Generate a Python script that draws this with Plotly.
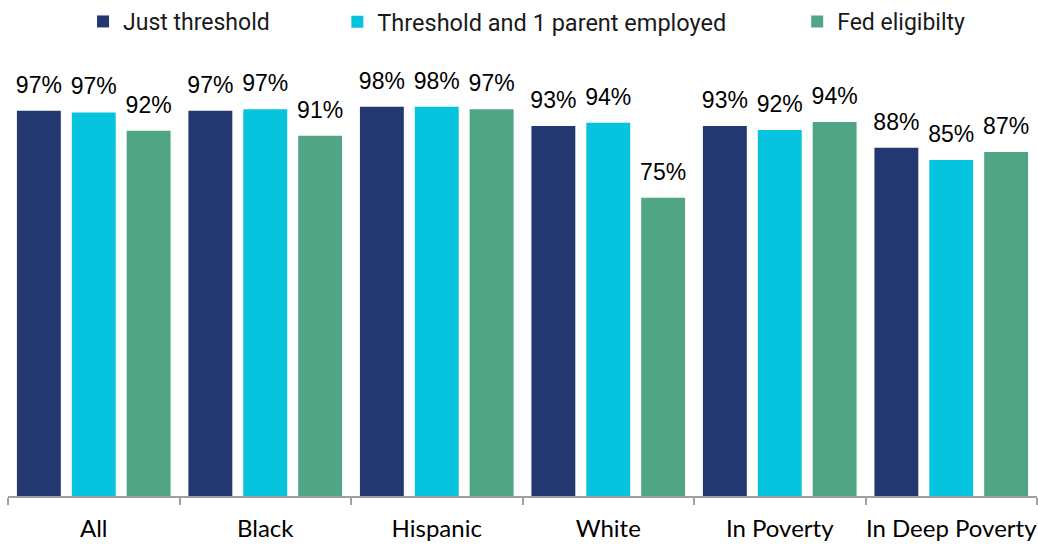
import plotly.graph_objects as go

categories = ["All", "Black", "Hispanic", "White", "In Poverty", "In Deep Poverty"]
series_names = ["Just threshold", "Threshold and 1 parent employed", "Fed eligibilty"]
just_threshold = [97.0, 97.0, 98.0, 93.2, 93.2, 87.7]
threshold_parent = [96.6, 97.4, 98.0, 94.0, 92.2, 84.6]
fed_eligibility = [92.0, 90.7, 97.4, 75.1, 94.2, 86.6]
colors = ["#233870", "#06C3DE", "#50A684"]

series = [just_threshold, threshold_parent, fed_eligibility]
legend_ids = ["legend", "legend2", "legend3"]

fig = go.Figure()
for name, vals, col, lg in zip(series_names, series, colors, legend_ids):
    fig.add_trace(go.Bar(
        x=categories, y=vals, name=name, marker_color=col,
        marker_line_width=0, legend=lg, hoverinfo="skip",
    ))
for name, vals in zip(series_names, series):
    fig.add_trace(go.Scatter(
        x=categories, y=vals, mode="markers+text",
        text=[f"{round(v):d}%" for v in vals], textposition="top center",
        textfont=dict(family="Liberation Sans, Arial", size=23, color="#000000"),
        marker=dict(size=18, opacity=0), showlegend=False, hoverinfo="skip",
        cliponaxis=False,
    ))

legend_font = dict(family="Roboto", size=23, color="#1a1a1a")
fig.update_layout(
    width=1038, height=546,
    margin=dict(l=8, r=1, t=60, b=50),
    paper_bgcolor="white", plot_bgcolor="white",
    barmode="group", bargap=0.04, bargroupgap=0.2,
    scattermode="group", scattergap=0.04,
    showlegend=True,
    legend=dict(x=0.08, y=1.0, xref="container", yref="container", xanchor="left", yanchor="top",
                orientation="h", font=legend_font, bgcolor="rgba(0,0,0,0)"),
    legend2=dict(x=0.325, y=1.0, xref="container", yref="container", xanchor="left", yanchor="top",
                 orientation="h", font=dict(family="Roboto", size=23.5, color="#1a1a1a"), bgcolor="rgba(0,0,0,0)"),
    legend3=dict(x=0.768, y=1.0, xref="container", yref="container", xanchor="left", yanchor="top",
                 orientation="h", font=legend_font, bgcolor="rgba(0,0,0,0)"),
    xaxis=dict(
        showline=True, linecolor="#a0a0a0", linewidth=2,
        ticks="outside", tickson="boundaries", ticklen=7, tickcolor="#a0a0a0", tickwidth=2,
        tickfont=dict(family="Lato", size=24, color="#000000"), tickangle=0, automargin=False,
        ticklabelstandoff=10, showgrid=False, zeroline=False,
    ),
    yaxis=dict(range=[0, 109.8], showgrid=False, showticklabels=False, zeroline=False, showline=False, ticks=""),
)

fig.write_html("out.html")
